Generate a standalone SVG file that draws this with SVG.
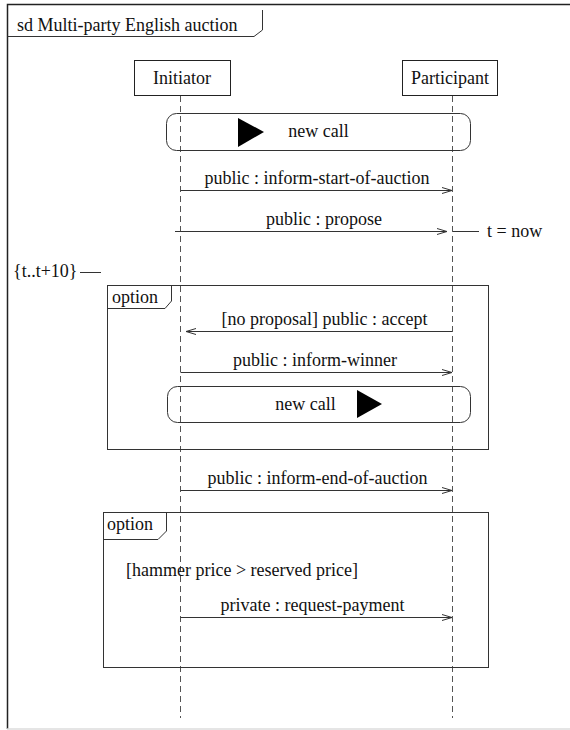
<svg xmlns="http://www.w3.org/2000/svg" width="570" height="730" viewBox="0 0 570 730">
<defs>
<style>
text{font-family:"Liberation Serif","Times New Roman",serif;font-size:18px;fill:#111}
.mid{text-anchor:middle}
.ln{stroke:#333;stroke-width:1;fill:none}
.life{stroke:#555;stroke-width:1;stroke-dasharray:6,4;fill:none}
.box{stroke:#222;stroke-width:1;fill:#fff}
.msg{stroke:#333;stroke-width:1;fill:none;marker-end:url(#oa)}
</style>
<marker id="oa" markerWidth="12" markerHeight="8" refX="11" refY="4" orient="auto" markerUnits="userSpaceOnUse">
<path d="M1,1 L11,4 L1,7" fill="none" stroke="#333" stroke-width="1"/>
</marker>
</defs>
<rect x="0" y="0" width="570" height="730" fill="#fff"/>
<g id="frame">
<path d="M570,4.5 H7.5 V729" stroke="#222" stroke-width="1.5" fill="none"/>
<line x1="7" y1="729" x2="570" y2="729" stroke="#ddd" stroke-width="1.5"/>
<path class="ln" d="M7.5,36.5 H254 L262.5,30 V10"/>
<text x="17" y="31">sd Multi-party English auction</text>
</g>
<g id="lifelines">
<line class="life" x1="180.5" y1="96" x2="180.5" y2="718"/>
<line class="life" x1="452.5" y1="96" x2="452.5" y2="718"/>
</g>
<g id="initiator">
<rect class="box" x="134.5" y="60.5" width="96" height="35"/>
<text class="mid" x="182" y="84">Initiator</text>
</g>
<g id="participant">
<rect class="box" x="402.5" y="60.5" width="95" height="35"/>
<text class="mid" x="450" y="84">Participant</text>
</g>
<g id="newcall1">
<rect class="ln" x="166.5" y="113.5" width="304" height="37" rx="10"/>
<polygon points="238,118 238,147 264,132" fill="#000"/>
<text class="mid" x="318.5" y="137">new call</text>
</g>
<g id="option1">
<rect class="ln" x="107.5" y="285.5" width="381" height="164"/>
<path class="ln" d="M107.5,308.5 H165 L171.5,301 V285.5"/>
<text x="112" y="303">option</text>
</g>
<g id="timing">
<text x="13" y="277">{t..t+10}</text>
<line class="ln" x1="80" y1="272.5" x2="101" y2="272.5"/>
<line class="ln" x1="453" y1="231.5" x2="479" y2="231.5"/>
<text x="487" y="237">t = now</text>
</g>
<g id="newcall2">
<rect class="ln" x="167.5" y="386.5" width="303" height="36" rx="10"/>
<polygon points="357,390 357,418 382,404" fill="#000"/>
<text class="mid" x="305.5" y="410">new call</text>
</g>
<g id="option2">
<rect class="ln" x="103.5" y="512.5" width="385" height="155"/>
<path class="ln" d="M103.5,539.5 H158 L166.5,531 V512.5"/>
<text x="107" y="530">option</text>
<text x="126" y="576">[hammer price &gt; reserved price]</text>
</g>
<g id="messages">
<line class="msg" x1="180.5" y1="190.5" x2="452" y2="190.5"/>
<text class="mid" x="317" y="184">public : inform-start-of-auction</text>
<line class="msg" x1="175" y1="231.5" x2="447" y2="231.5"/>
<text class="mid" x="324" y="225">public : propose</text>
<line class="msg" x1="452" y1="331.5" x2="186" y2="331.5"/>
<text class="mid" x="324.5" y="325">[no proposal] public : accept</text>
<line class="msg" x1="180.5" y1="372.5" x2="452" y2="372.5"/>
<text class="mid" x="315" y="366">public : inform-winner</text>
<line class="msg" x1="180.5" y1="490.5" x2="452" y2="490.5"/>
<text class="mid" x="317.5" y="484">public : inform-end-of-auction</text>
<line class="msg" x1="180.5" y1="617.5" x2="452" y2="617.5"/>
<text class="mid" x="312.5" y="611">private : request-payment</text>
</g>
</svg>
